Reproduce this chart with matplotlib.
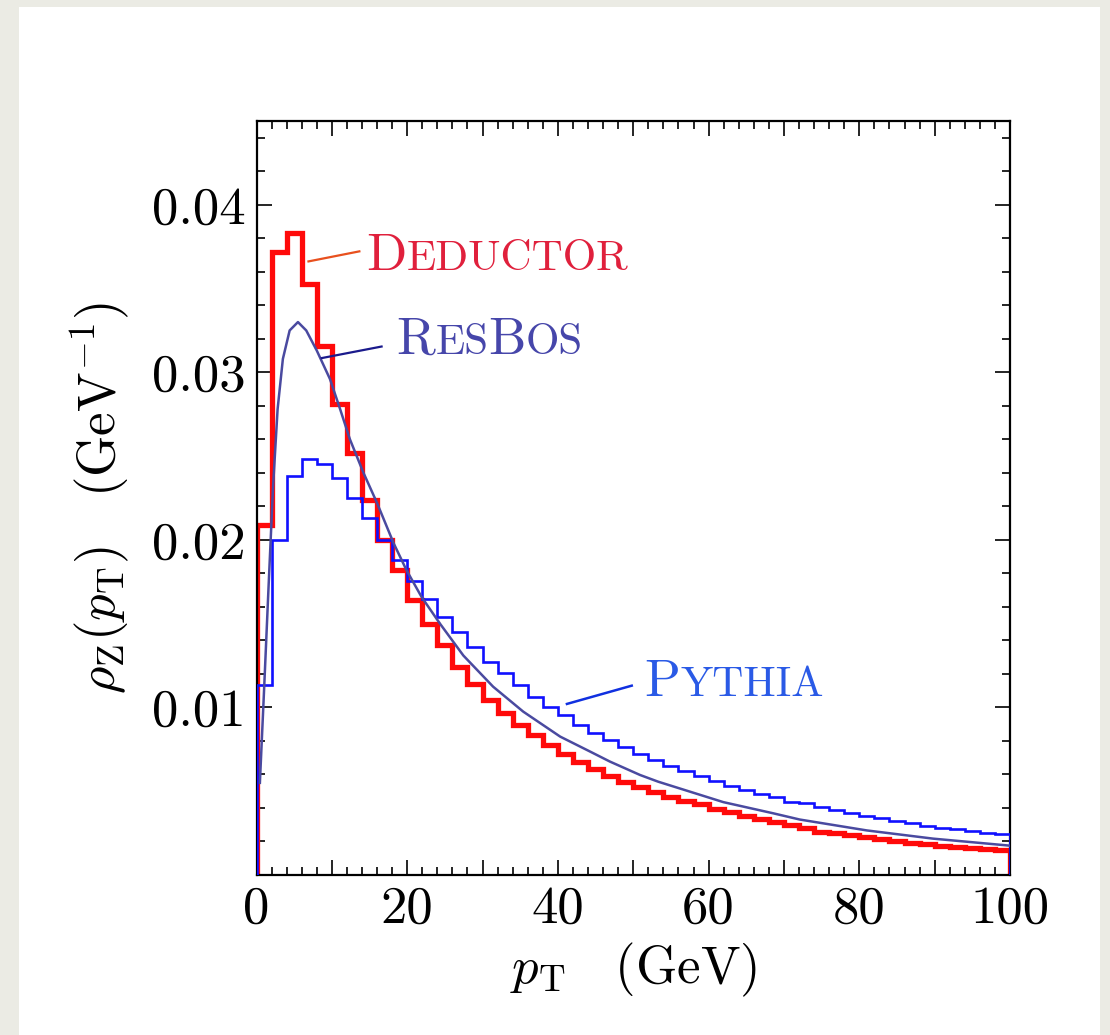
import numpy as np
import matplotlib
matplotlib.use("Agg")
import matplotlib.pyplot as plt
from matplotlib.patches import Rectangle
from matplotlib.ticker import MultipleLocator, FixedLocator, FixedFormatter, FuncFormatter

plt.rcParams['font.family'] = 'serif'
plt.rcParams['font.serif'] = ['cmr10']
plt.rcParams['mathtext.fontset'] = 'cm'
plt.rcParams['axes.formatter.use_mathtext'] = True

# ---- data ----
edges = np.arange(0, 101, 2)

deductor = [0.0209, 0.0372, 0.0383, 0.0353, 0.0316, 0.0281, 0.0252, 0.0224, 0.0200, 0.0182,
            0.0164, 0.0150, 0.0137, 0.0124, 0.0114, 0.01045, 0.00965, 0.00896, 0.00836, 0.00776,
            0.00722, 0.00677, 0.00632, 0.00592, 0.00558, 0.00525, 0.00496, 0.00464, 0.00444, 0.00424,
            0.00394, 0.00374, 0.00352, 0.00332, 0.00315, 0.00299, 0.00279, 0.00259, 0.00249, 0.00239,
            0.00225, 0.00213, 0.00203, 0.00193, 0.00185, 0.00175, 0.00169, 0.00161, 0.00155, 0.00149]

pythia = [0.01134, 0.0200, 0.0238, 0.0248, 0.0245, 0.0237, 0.0225, 0.0213, 0.0200, 0.0188,
          0.01757, 0.01648, 0.01538, 0.01449, 0.01359, 0.01274, 0.01204, 0.01134, 0.01065, 0.01005,
          0.00955, 0.00896, 0.00846, 0.00806, 0.00762, 0.00722, 0.00687, 0.00651, 0.00621, 0.00591,
          0.00563, 0.00531, 0.00507, 0.00484, 0.00464, 0.00438, 0.00430, 0.00408, 0.00388, 0.00372,
          0.00352, 0.00338, 0.00324, 0.00308, 0.00293, 0.00281, 0.00273, 0.00263, 0.00253, 0.00243]

resbos_x = [0.45, 1.0, 1.6, 2.2, 2.8, 3.5, 4.4, 5.5, 6.6, 8.0, 9.75, 11.1, 12.4, 14.2, 16.0,
            18.2, 19.9, 21.9, 24.35, 27.45, 31.4, 35.4, 40.3, 44.3, 46.9, 50.9, 53.3, 61.95,
            68.6, 72.1, 81.0, 89.8, 100.0]
resbos_y = [0.0055, 0.0110, 0.0172, 0.0232, 0.0278, 0.0308, 0.0325, 0.0330, 0.0325, 0.0313,
            0.0296, 0.0278, 0.0260, 0.0240, 0.0222, 0.0198, 0.0182, 0.0166, 0.0150, 0.0131,
            0.01124, 0.00975, 0.00826, 0.00736, 0.00677, 0.00597, 0.00557, 0.00435, 0.00368,
            0.00331, 0.00266, 0.00217, 0.00175]

# ---- figure ----
fig = plt.figure(figsize=(11.1, 10.35), dpi=100)
fig.patch.set_facecolor('#ebebe4')
fig.patches.append(Rectangle((19 / 1110, 0), 1081 / 1110, 1028 / 1035,
                             transform=fig.transFigure, facecolor='white',
                             edgecolor='none', zorder=-10))

ax = fig.add_axes([256.5 / 1110, 160 / 1035, 753.5 / 1110, 754 / 1035])

ax.stairs(pythia, edges, baseline=0, color='#1010ff', lw=1.9, zorder=3)
ax.stairs(deductor, edges, baseline=0, color='#ff0a0a', lw=3.8, zorder=2)
ax.plot(resbos_x, resbos_y, color='#4a4aa0', lw=1.8, zorder=4)

ax.set_xlim(0, 100)
ax.set_ylim(0, 0.045)

ax.xaxis.set_major_locator(MultipleLocator(10))
ax.xaxis.set_minor_locator(MultipleLocator(2))
ax.xaxis.set_major_formatter(FuncFormatter(lambda v, p: f"{v:.0f}" if round(v) % 20 == 0 else ""))
ax.yaxis.set_major_locator(FixedLocator([0.01, 0.02, 0.03, 0.04]))
ax.yaxis.set_major_formatter(FixedFormatter(["0.01", "0.02", "0.03", "0.04"]))
ax.yaxis.set_minor_locator(MultipleLocator(0.002))

ax.tick_params(which='both', direction='in', top=True, right=True, width=1.2, labelsize=38)
ax.tick_params(which='major', length=10.5, pad=8)
ax.tick_params(which='minor', length=5.5)
for s in ax.spines.values():
    s.set_linewidth(1.6)

ax.set_xlabel(r"$p_{\mathrm{T}}\quad(\mathrm{GeV})$", fontsize=38, labelpad=6)
ax.set_ylabel(r"$\rho_{\mathrm{Z}}(p_{\mathrm{T}})\quad(\mathrm{GeV}^{-1})$", fontsize=38, labelpad=14)


def small_caps(x, y, chunks, color, big=38, small=31):
    prev = None
    for txt, is_big in chunks:
        size = big if is_big else small
        if prev is None:
            prev = ax.text(x, y, txt, color=color, fontsize=size, va='baseline', ha='left')
        else:
            prev = ax.annotate(txt, xy=(1, y), xycoords=(prev, 'data'), color=color,
                               fontsize=size, va='baseline', ha='left')


small_caps(14.6, 0.03608, [("D", True), ("EDUCTOR", False)], '#e0203c')
small_caps(18.6, 0.03109, [("R", True), ("ES", False), ("B", True), ("OS", False)], '#4646aa')
small_caps(51.5, 0.01069, [("P", True), ("YTHIA", False)], '#2a5ae6')

ax.plot([6.9, 13.65], [0.03662, 0.03722], color='#e8501e', lw=1.6, zorder=5)
ax.plot([8.65, 16.6], [0.03085, 0.03154], color='#1a1a8c', lw=1.6, zorder=5)
ax.plot([41.2, 49.8], [0.01021, 0.0113], color='#1030e0', lw=1.8, zorder=5)

fig.savefig("out.png", dpi=100, facecolor=fig.get_facecolor())
